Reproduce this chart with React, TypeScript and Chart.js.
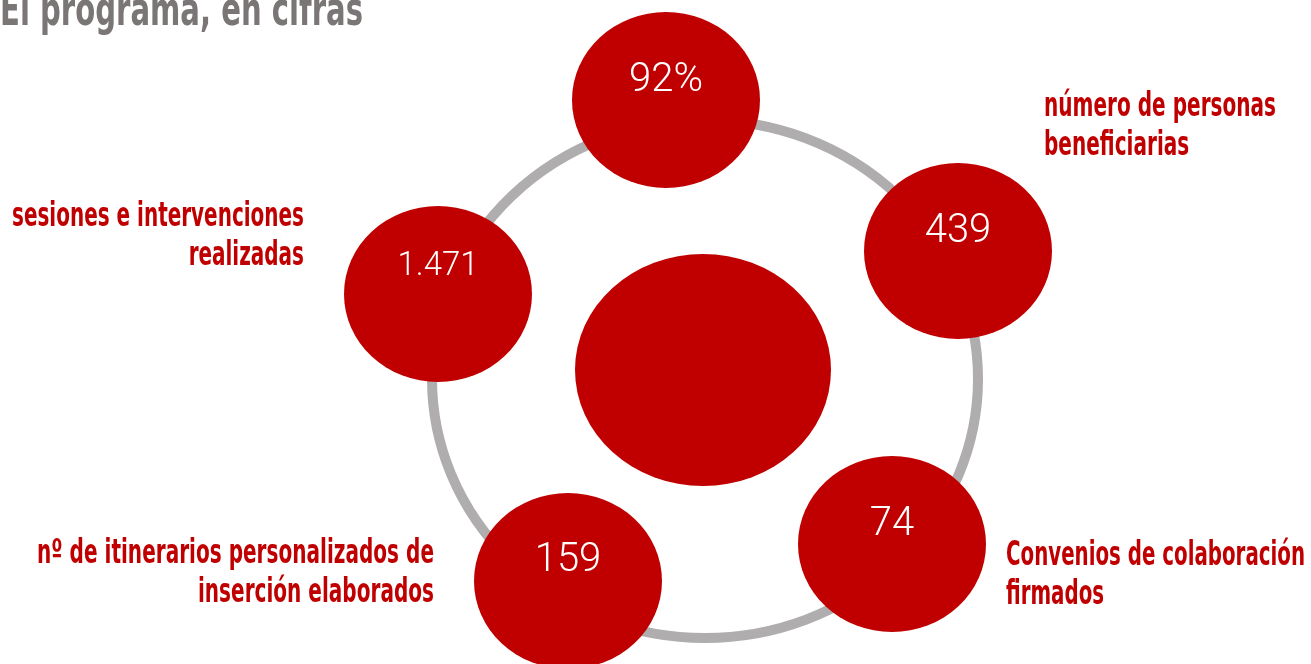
import React, { useEffect, useRef } from "react";
import { Chart, registerables } from "chart.js";

Chart.register(...registerables);

// ---- data ----
const titleText = "El programa, en cifras";
const valueLabels = ["92%", "439", "74", "159", "1.471"];
const values = [92, 439, 74, 159, 1471];
const bubbleX = [666, 958, 892, 568, 438];
const bubbleY = [100, 251, 544, 581, 294];
const labelLines: string[][] = [
  [],
  ["número de personas", "beneficiarias"],
  ["Convenios de colaboración", "firmados"],
  ["nº de itinerarios personalizados de", "inserción elaborados"],
  ["sesiones e intervenciones", "realizadas"],
];
const centerPoint = [{ x: 703, y: 370 }];
const ringPoint = [{ x: 705, y: 379 }];

// ---- layout / style (kept apart from data) ----
const labelAnchorX = [0, 1044, 1006, 434, 304];
const labelAnchorY = [0, 116, 565, 563, 226];
const labelAlign: CanvasTextAlign[] = ["left", "left", "left", "right", "right"];
const labelTargetWidth = [0, 232, 299, 397, 292];
const numberFontSize = [40, 40, 40, 40, 33];
const numberBaselineOffset = [-9, -9, -9, -10, -19];

const RED = "#c00000";
const RING_GRAY = "#afadad";
const TITLE_GRAY = "#7a7676";

function ellipseSprite(rx: number, ry: number, fill: string | null, stroke: string | null, lw = 0) {
  const pad = Math.ceil(lw / 2) + 2;
  const c = document.createElement("canvas");
  c.width = Math.ceil(2 * rx + 2 * pad);
  c.height = Math.ceil(2 * ry + 2 * pad);
  const ctx = c.getContext("2d")!;
  ctx.beginPath();
  ctx.ellipse(c.width / 2, c.height / 2, rx, ry, 0, 0, Math.PI * 2);
  if (fill) {
    ctx.fillStyle = fill;
    ctx.fill();
  }
  if (stroke) {
    ctx.strokeStyle = stroke;
    ctx.lineWidth = lw;
    ctx.stroke();
  }
  return c;
}

function fittedText(
  ctx: CanvasRenderingContext2D,
  text: string,
  x: number,
  y: number,
  align: CanvasTextAlign,
  sx: number,
  sy = 1
) {
  ctx.save();
  ctx.translate(x, y);
  ctx.scale(sx, sy);
  ctx.textAlign = align;
  ctx.textBaseline = "alphabetic";
  ctx.fillText(text, 0, 0);
  ctx.restore();
}

const textPlugin = {
  id: "infographicText",
  afterDatasetsDraw(chart: any) {
    const ctx: CanvasRenderingContext2D = chart.ctx;
    const xs = chart.scales.x;
    const ys = chart.scales.y;
    const meta = chart.getDatasetMeta(0);

    // numbers inside the bubbles
    ctx.save();
    ctx.fillStyle = "#ffffff";
    meta.data.forEach((pt: any, i: number) => {
      ctx.font = `300 ${numberFontSize[i]}px Roboto, "Open Sans", sans-serif`;
      ctx.textAlign = "center";
      ctx.textBaseline = "alphabetic";
      ctx.fillText(valueLabels[i], pt.x, pt.y + numberBaselineOffset[i]);
    });
    ctx.restore();

    // category labels
    ctx.save();
    ctx.fillStyle = RED;
    ctx.font = `bold 32px "Liberation Sans Narrow", "DejaVu Sans Condensed", Roboto, sans-serif`;
    labelLines.forEach((lines, i) => {
      if (!lines.length) return;
      const w = ctx.measureText(lines[0]).width;
      const sx = labelTargetWidth[i] / w;
      const px = xs.getPixelForValue(labelAnchorX[i]);
      lines.forEach((line, j) => {
        const py = ys.getPixelForValue(labelAnchorY[i] + j * 39);
        fittedText(ctx, line, px, py, labelAlign[i], sx, 1.06);
      });
    });
    ctx.restore();

    // title (cut off at the top like the reference)
    ctx.save();
    ctx.fillStyle = TITLE_GRAY;
    ctx.font = `bold 46px "Liberation Sans Narrow", "DejaVu Sans Condensed", Roboto, sans-serif`;
    const tw = ctx.measureText(titleText).width;
    fittedText(ctx, titleText, xs.getPixelForValue(0), ys.getPixelForValue(25), "left", 363 / tw);
    ctx.restore();
  },
};

export default function App() {
  const ref = useRef<HTMLCanvasElement | null>(null);

  useEffect(() => {
    document.body.style.margin = "0";
    const canvas = ref.current!;
    const bubbleSprite = ellipseSprite(94, 88, RED, null);
    const centerSprite = ellipseSprite(128, 116, RED, null);
    const ringSprite = ellipseSprite(273, 259, null, RING_GRAY, 10);

    const chart = new Chart(canvas, {
      type: "scatter",
      data: {
        datasets: [
          {
            label: "cifras",
            data: values.map((v, i) => ({ x: bubbleX[i], y: bubbleY[i], v })),
            pointStyle: bubbleSprite as any,
            pointRadius: 1,
            order: 1,
            clip: false as any,
          },
          {
            label: "centro",
            data: centerPoint,
            pointStyle: centerSprite as any,
            pointRadius: 1,
            order: 2,
            clip: false as any,
          },
          {
            label: "anillo",
            data: ringPoint,
            pointStyle: ringSprite as any,
            pointRadius: 1,
            order: 3,
            clip: false as any,
          },
        ],
      },
      options: {
        responsive: false,
        maintainAspectRatio: false,
        animation: false,
        events: [],
        layout: { padding: 0, autoPadding: false },
        plugins: {
          legend: { display: false },
          tooltip: { enabled: false },
          title: { display: false },
        },
        scales: {
          x: { type: "linear", min: 0, max: 1311, display: false },
          y: { type: "linear", min: 0, max: 664, reverse: true, display: false },
        },
      },
      plugins: [textPlugin],
    });
    return () => chart.destroy();
  }, []);

  return (
    <div style={{ width: 1311, height: 664, overflow: "hidden" }}>
      <canvas ref={ref} width={1311} height={664} style={{ display: "block" }} />
    </div>
  );
}
